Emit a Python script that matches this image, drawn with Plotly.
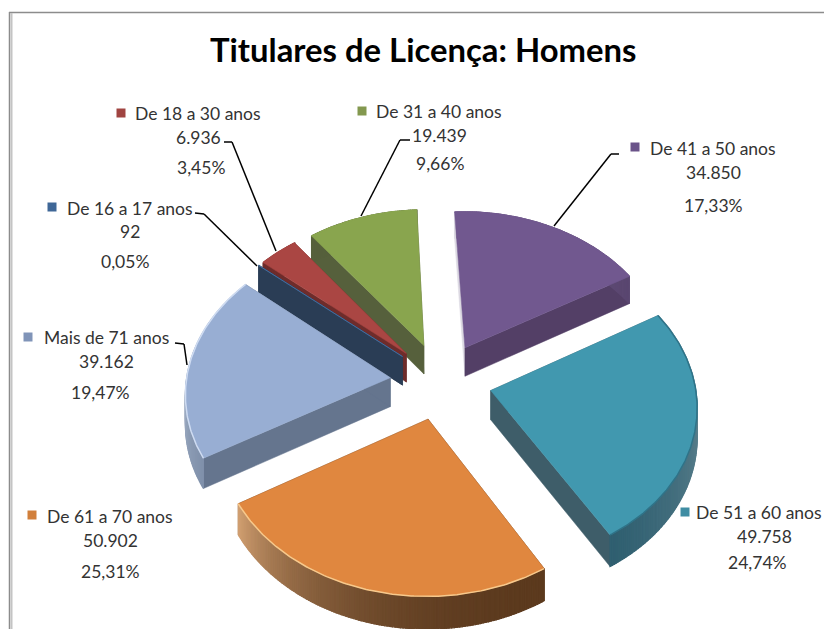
import numpy as np
import plotly.graph_objects as go

# ---- data ----
categories = ["De 16 a 17 anos", "De 18 a 30 anos", "De 31 a 40 anos", "De 41 a 50 anos",
              "De 51 a 60 anos", "De 61 a 70 anos", "Mais de 71 anos"]
values = [92, 6936, 19439, 34850, 49758, 50902, 39162]
value_labels = ["92", "6.936", "19.439", "34.850", "49.758", "50.902", "39.162"]
percent_labels = ["0,05%", "3,45%", "9,66%", "17,33%", "24,74%", "25,31%", "19,47%"]
title_text = "Titulares de Licença: Homens"

# ---- styles ----
top_colors = ["#4a7ebb", "#aa4643", "#89a54e", "#71588f", "#4198af", "#e0873f", "#98aed3"]
start_wall = ["#2a3d55", "#6e2c2b", "#56603c", "#dcd9e2", "#3e5d69", "#5d3a1e", "#65758e"]
end_wall = ["#2a3d55", "#6e2c2b", "#56603c", "#533f66", "#3e5d69", "#5d3a1e", "#65758e"]
arc_start = ["#2a3d55", "#6e2c2b", "#56603c", "#dcd9e2", "#9fb2ba", "#5c3a1e", "#7f90aa"]
arc_end = ["#2a3d55", "#6e2c2b", "#56603c", "#5a4670", "#2f5f70", "#cf9e70", "#c8d3e4"]
arc_power = [1, 1, 1, 0.15, 0.6, 2.5, 1]
rim_colors = ["#4a7ebb", "#aa4643", "#89a54e", "#71588f", "#2f7388", "#f7c98c", "#cfdcf2"]
key_colors = ["#3f6797", "#a04441", "#83984f", "#6a5389", "#3f8da3", "#d17f3b", "#8094b8"]

# projection of the 3D pie
START, EXPLODE = 310.0, 0.25
CX, CY, AX, AY, PERSP, DEPTH = 441.0, 381.0, 204.0, 154.0, 0.09, 29.0
FONT = "Lato"
TXT = "#333333"

def project(X, Y, down=0.0):
    w = 1 + PERSP * Y
    return CX + AX * X / w, CY - AY * Y / w + down / w

def polygon(px, py, color, lw=0.5):
    return go.Scatter(x=list(px), y=list(py), mode="lines", fill="toself", fillcolor=color,
                      line=dict(color=color, width=lw), hoverinfo="skip", showlegend=False)

def mix(c1, c2, t):
    a = [int(c1[i:i + 2], 16) for i in (1, 3, 5)]
    b = [int(c2[i:i + 2], 16) for i in (1, 3, 5)]
    return "rgb(%d,%d,%d)" % tuple(round(p + (q - p) * t) for p, q in zip(a, b))

total = sum(values)
edges = START + np.concatenate([[0], np.cumsum(values)]) / total * 360
slices = []
for i in range(len(values)):
    a0, a1 = edges[i], edges[i + 1]
    mid = np.radians((a0 + a1) / 2)
    ox, oy = EXPLODE * np.sin(mid), EXPLODE * np.cos(mid)
    th = np.radians(np.linspace(a0, a1, max(3, int((a1 - a0) * 1.5))))
    slices.append(dict(i=i, ox=ox, oy=oy, th=th, depth=oy))

traces = []
# far slices first
for s in sorted(slices, key=lambda d: -d["depth"]):
    i, ox, oy, th = s["i"], s["ox"], s["oy"], s["th"]
    X, Y = ox + np.sin(th), oy + np.cos(th)
    # radial walls
    for k, col in ((0, start_wall[i]), (-1, end_wall[i])):
        ax0, ay0 = project(ox, oy)
        bx0, by0 = project(ox, oy, DEPTH)
        ax1, ay1 = project(X[k], Y[k])
        bx1, by1 = project(X[k], Y[k], DEPTH)
        traces.append(polygon([ax0, ax1, bx1, bx0, ax0], [ay0, ay1, by1, by0, ay0], col))
    # outer wall, split into strips for the shading
    tx, ty = project(X, Y)
    bx, by = project(X, Y, DEPTH)
    n = len(th) - 1
    for j in range(n):
        t = (j / max(n - 1, 1)) ** arc_power[i]
        col = mix(arc_start[i], arc_end[i], t)
        traces.append(polygon([tx[j], tx[j + 1], bx[j + 1], bx[j], tx[j]],
                              [ty[j], ty[j + 1], by[j + 1], by[j], ty[j]], col, lw=1.2))
    # top face
    ax0, ay0 = project(ox, oy)
    traces.append(polygon(np.r_[ax0, tx, ax0], np.r_[ay0, ty, ay0], top_colors[i]))
    # bright / dark rim
    traces.append(go.Scatter(x=tx, y=ty, mode="lines", line=dict(color=rim_colors[i], width=1.5),
                             hoverinfo="skip", showlegend=False))

# legend keys
key_pos = [(52, 207), (121, 113), (362, 111), (635, 147), (685, 512), (32, 515), (28, 337)]
traces.append(go.Scatter(x=[p[0] for p in key_pos], y=[p[1] for p in key_pos], mode="markers",
                         marker=dict(symbol="square", size=9, color=key_colors),
                         hoverinfo="skip", showlegend=False))

fig = go.Figure(traces)

# label placement: (name x, name y, value x, value y, percent x, percent y)
label_pos = [
    (130, 208, 130, 231, 125, 261),
    (198, 113, 198, 137, 201, 167),
    (439, 111, 439, 135, 440, 163),
    (713, 148, 713, 172, 713, 205),
    (759, 512, 764, 536, 757, 562),
    (110, 516, 110, 540, 110, 571),
    (106, 337, 106, 361, 100, 392),
]
annotations = [dict(x=423, y=49, text="<b>%s</b>" % title_text, showarrow=False,
                    font=dict(family=FONT, size=32.8, color="#000000"))]
for i, p in enumerate(label_pos):
    for (x, y, t) in ((p[0], p[1], categories[i]), (p[2], p[3], value_labels[i]), (p[4], p[5], percent_labels[i])):
        annotations.append(dict(x=x, y=y, text=t, showarrow=False,
                                font=dict(family=FONT, size=17.5, color=TXT)))

leaders = [
    ([195, 204, 257], [213, 214, 266]),
    ([224, 232, 276], [142, 142, 251]),
    ([410, 400, 361], [140, 140, 216]),
    ([619, 611, 554], [154, 154, 226]),
    ([175, 184, 187], [343, 344, 365]),
]
shapes = []
for lx, ly in leaders:
    for a in range(2):
        shapes.append(dict(type="line", x0=lx[a], y0=ly[a], x1=lx[a + 1], y1=ly[a + 1],
                           line=dict(color="#000000", width=1.5), layer="above"))
# chart frame
shapes += [
    dict(type="line", x0=9, y0=12.5, x1=824, y1=12.5, line=dict(color="#8c8c8c", width=1.5)),
    dict(type="line", x0=9.5, y0=12, x1=9.5, y1=629, line=dict(color="#8c8c8c", width=1.5)),
    dict(type="line", x0=11.5, y0=13, x1=11.5, y1=629, line=dict(color="#c4c4c4", width=2)),
]

fig.update_layout(
    width=824, height=629, autosize=False,
    margin=dict(l=0, r=0, t=0, b=0),
    paper_bgcolor="#ffffff", plot_bgcolor="#ffffff",
    xaxis=dict(range=[0, 824], visible=False, fixedrange=True),
    yaxis=dict(range=[629, 0], visible=False, fixedrange=True),
    annotations=annotations, shapes=shapes, showlegend=False,
)
fig.write_html("out.html", config=dict(displayModeBar=False),
               post_script="document.body.style.margin='0';document.body.style.overflow='hidden';")
